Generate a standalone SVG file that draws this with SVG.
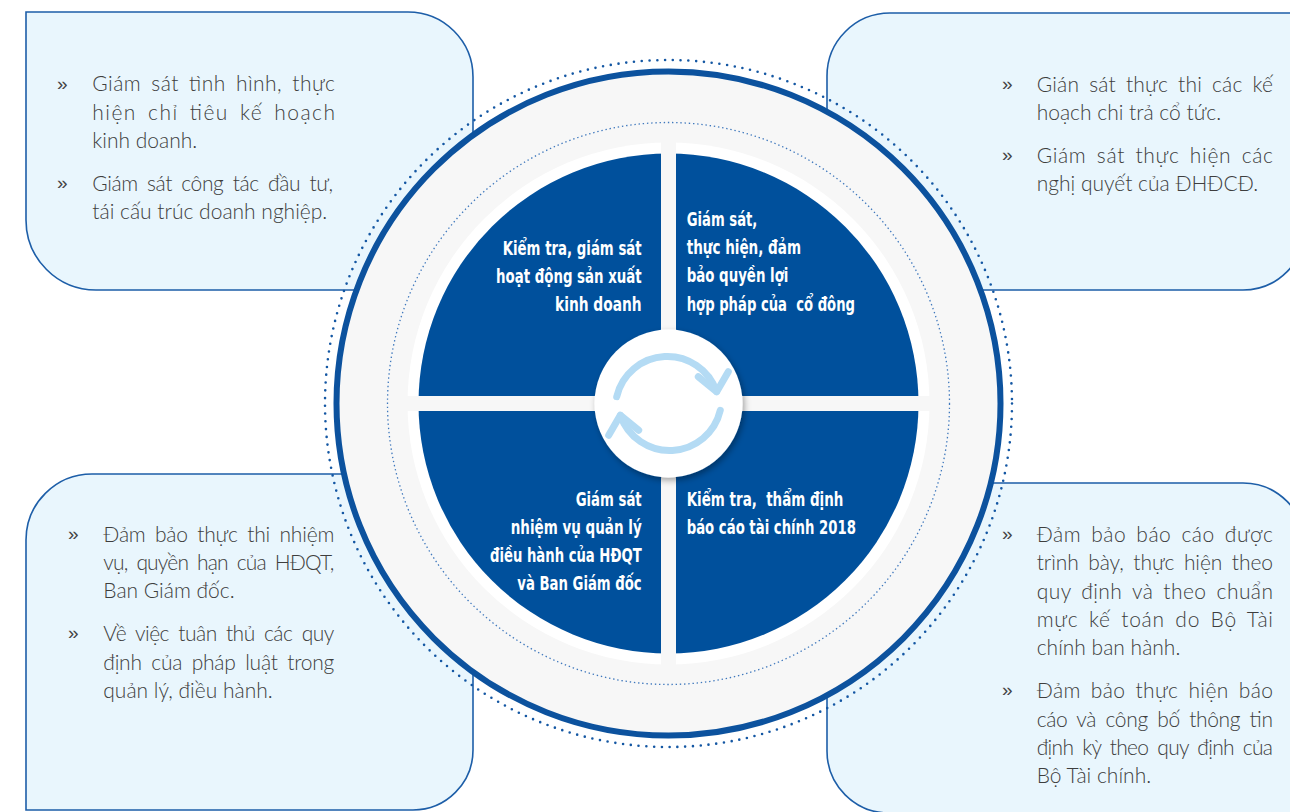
<svg xmlns="http://www.w3.org/2000/svg" width="1290" height="812" viewBox="0 0 1290 812">
<defs>
<style>
.box{fill:#e9f6fd;stroke:#1d5ea8;stroke-width:1.6}
.body{font-family:Lato,"Open Sans","Noto Sans",sans-serif;font-size:21px;fill:#3e3e3e;font-weight:300;word-spacing:4px}
.bul{font-family:"Liberation Sans",sans-serif;font-size:19px;fill:#444}
.pie{font-family:"Liberation Sans Narrow","DejaVu Sans Condensed","Liberation Sans",sans-serif;font-stretch:condensed;font-weight:bold;font-size:20px;fill:#ffffff}
.icon{fill:none;stroke:#b4dbf4;stroke-width:7;stroke-linecap:round;stroke-linejoin:round}
</style>
<filter id="sh" x="-30%" y="-30%" width="160%" height="160%">
<feDropShadow dx="2" dy="3" stdDeviation="3" flood-color="#000" flood-opacity="0.35"/>
</filter>
</defs>
<rect width="1290" height="812" fill="#ffffff"/>

<g id="box-top-left">
<path class="box" d="M26,12 H408 A65,65 0 0 1 473,77 V290 H96 A70,70 0 0 1 26,220 Z"/>
<text class="bul" x="57" y="90">»</text>
<text class="body" x="92.3" y="91" textLength="242.7" lengthAdjust="spacing">Giám sát tình hình, thực</text>
<text class="body" x="92.3" y="119.5" textLength="242.7" lengthAdjust="spacing">hiện chỉ tiêu kế hoạch</text>
<text class="body" x="92.3" y="148" style="word-spacing:0">kinh doanh.</text>
<text class="bul" x="57" y="189">»</text>
<text class="body" x="92.3" y="191" textLength="240.7" lengthAdjust="spacing">Giám sát công tác đầu tư,</text>
<text class="body" x="92.3" y="219" style="word-spacing:0">tái cấu trúc doanh nghiệp.</text>
</g>

<g id="box-top-right">
<path class="box" d="M890,13 H1305 V228 A62,62 0 0 1 1243,290 H827 V76 A63,63 0 0 1 890,13 Z"/>
<text class="bul" x="1002" y="90">»</text>
<text class="body" x="1036.7" y="91.5" textLength="236.3" lengthAdjust="spacing">Gián sát thực thi các kế</text>
<text class="body" x="1036.7" y="119.5" style="word-spacing:0">hoạch chi trả cổ tức.</text>
<text class="bul" x="1002" y="161">»</text>
<text class="body" x="1036.7" y="163" textLength="236.3" lengthAdjust="spacing">Giám sát thực hiện các</text>
<text class="body" x="1036.7" y="191" style="word-spacing:0">nghị quyết của ĐHĐCĐ.</text>
</g>

<g id="box-bottom-left">
<path class="box" d="M92,474 H473 V750 A60,60 0 0 1 413,810 H26 V540 A66,66 0 0 1 92,474 Z"/>
<text class="bul" x="68" y="540">»</text>
<text class="body" x="103.3" y="542" textLength="231" lengthAdjust="spacing">Đảm bảo thực thi nhiệm</text>
<text class="body" x="103.3" y="570" textLength="231" lengthAdjust="spacing">vụ, quyền hạn của HĐQT,</text>
<text class="body" x="103.3" y="598" style="word-spacing:0">Ban Giám đốc.</text>
<text class="bul" x="68" y="639">»</text>
<text class="body" x="103.3" y="641" textLength="231" lengthAdjust="spacing">Về việc tuân thủ các quy</text>
<text class="body" x="103.3" y="670" textLength="231" lengthAdjust="spacing">định của pháp luật trong</text>
<text class="body" x="103.3" y="698" style="word-spacing:0">quản lý, điều hành.</text>
</g>

<g id="box-bottom-right">
<path class="box" d="M827,483 H1243 A62,62 0 0 1 1305,545 V813 H889 A62,62 0 0 1 827,751 Z"/>
<text class="bul" x="1002" y="540">»</text>
<text class="body" x="1036.7" y="542" textLength="236.3" lengthAdjust="spacing">Đảm bảo báo cáo được</text>
<text class="body" x="1036.7" y="570" textLength="236.3" lengthAdjust="spacing">trình bày, thực hiện theo</text>
<text class="body" x="1036.7" y="598.5" textLength="236.3" lengthAdjust="spacing">quy định và theo chuẩn</text>
<text class="body" x="1036.7" y="627" textLength="236.3" lengthAdjust="spacing">mực kế toán do Bộ Tài</text>
<text class="body" x="1036.7" y="655" style="word-spacing:0">chính ban hành.</text>
<text class="bul" x="1002" y="696">»</text>
<text class="body" x="1036.7" y="698" textLength="236.3" lengthAdjust="spacing">Đảm bảo thực hiện báo</text>
<text class="body" x="1036.7" y="727" textLength="236.3" lengthAdjust="spacing">cáo và công bố thông tin</text>
<text class="body" x="1036.7" y="755" textLength="236.3" lengthAdjust="spacing">định kỳ theo quy định của</text>
<text class="body" x="1036.7" y="783" style="word-spacing:0">Bộ Tài chính.</text>
</g>

<g id="wheel">
<circle cx="668.5" cy="403.5" r="332" fill="#f7f7f7" stroke="#0c529e" stroke-width="6"/>
<circle cx="668.5" cy="403.5" r="281" fill="none" stroke="#3f78bd" stroke-width="1.3" stroke-dasharray="1.4 2.8"/>
<circle cx="668.5" cy="403.5" r="261" fill="#ffffff"/>
<circle cx="668.5" cy="403.5" r="250" fill="#00509c"/>
<rect x="661" y="141.5" width="15" height="524" fill="#f7f7f7"/>
<rect x="406.5" y="396" width="524" height="15" fill="#f7f7f7"/>
</g>

<g id="outer-dots">
<circle cx="668.5" cy="403.5" r="343.5" fill="none" stroke="#1457a3" stroke-width="2.6" stroke-linecap="round" stroke-dasharray="0 7.8"/>
</g>

<g id="quadrant-top-left">
<text class="pie" text-anchor="end" x="641.7" y="255" textLength="139" lengthAdjust="spacingAndGlyphs">Kiểm tra, giám sát</text>
<text class="pie" text-anchor="end" x="641.7" y="283" textLength="145.7" lengthAdjust="spacingAndGlyphs">hoạt động sản xuất</text>
<text class="pie" text-anchor="end" x="641.7" y="311" textLength="86.7" lengthAdjust="spacingAndGlyphs">kinh doanh</text>
</g>
<g id="quadrant-top-right">
<text class="pie" x="686.7" y="226" textLength="70.7" lengthAdjust="spacingAndGlyphs">Giám sát,</text>
<text class="pie" x="686.7" y="254" textLength="114.3" lengthAdjust="spacingAndGlyphs">thực hiện, đảm</text>
<text class="pie" x="686.7" y="282" textLength="101.7" lengthAdjust="spacingAndGlyphs">bảo quyền lợi</text>
<text class="pie" x="686.7" y="311" textLength="168.3" lengthAdjust="spacingAndGlyphs" xml:space="preserve">hợp pháp của  cổ đông</text>
</g>
<g id="quadrant-bottom-left">
<text class="pie" text-anchor="end" x="641.7" y="506" textLength="66" lengthAdjust="spacingAndGlyphs">Giám sát</text>
<text class="pie" text-anchor="end" x="641.7" y="534" textLength="131" lengthAdjust="spacingAndGlyphs">nhiệm vụ quản lý</text>
<text class="pie" text-anchor="end" x="641.7" y="562" textLength="151.7" lengthAdjust="spacingAndGlyphs">điều hành của HĐQT</text>
<text class="pie" text-anchor="end" x="641.7" y="590" textLength="124.4" lengthAdjust="spacingAndGlyphs">và Ban Giám đốc</text>
</g>
<g id="quadrant-bottom-right">
<text class="pie" x="686.7" y="506" textLength="156.7" lengthAdjust="spacingAndGlyphs" xml:space="preserve">Kiểm tra,  thẩm định</text>
<text class="pie" x="686.7" y="534" textLength="169.3" lengthAdjust="spacingAndGlyphs">báo cáo tài chính 2018</text>
</g>

<g id="center-cycle">
<circle cx="668.5" cy="403.5" r="74" fill="#ffffff" filter="url(#sh)"/>
<path class="icon" d="M616.7,396.7 A52,52 0 0 1 716.5,391.5"/>
<path class="icon" d="M698.3,376.7 L716.7,391.7 L728.3,371.7"/>
<path class="icon" d="M720.3,410.3 A52,52 0 0 1 620.5,415.5"/>
<path class="icon" d="M638.7,430.3 L620.3,415.3 L608.7,435.3"/>
</g>
</svg>
